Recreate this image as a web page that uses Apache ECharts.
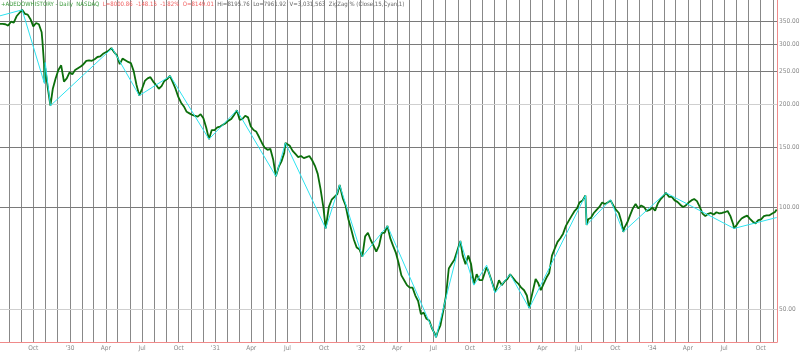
<!DOCTYPE html>
<html><head><meta charset="utf-8">
<script src="https://cdn.jsdelivr.net/npm/echarts@6/dist/echarts.min.js"></script>
<style>html,body{margin:0;padding:0;background:#fff}#c{width:800px;height:352px}</style>
</head><body><div id="c"></div>
<script>
// ---- data ----
const dates = [
'1929-07-09','1929-07-16','1929-07-23','1929-07-30','1929-08-06','1929-08-13','1929-08-20','1929-08-27','1929-09-03','1929-09-10','1929-09-17','1929-09-24','1929-10-01','1929-10-08','1929-10-15','1929-10-22','1929-10-24','1929-10-28','1929-10-29','1929-10-31','1929-11-04','1929-11-06','1929-11-13','1929-11-19','1929-11-26','1929-12-03','1929-12-10','1929-12-17','1929-12-24','1929-12-31',
'1930-01-07','1930-01-14','1930-01-21','1930-01-28','1930-02-04','1930-02-11','1930-02-18','1930-02-25','1930-03-04','1930-03-11','1930-03-18','1930-03-25','1930-04-01','1930-04-08','1930-04-15','1930-04-22','1930-04-29','1930-05-06','1930-05-13','1930-05-20','1930-05-27','1930-06-03','1930-06-10','1930-06-17','1930-06-24','1930-07-01','1930-07-08','1930-07-15','1930-07-22','1930-07-29','1930-08-05','1930-08-12','1930-08-19','1930-08-26','1930-09-02','1930-09-09','1930-09-16','1930-09-23','1930-09-30','1930-10-07','1930-10-14','1930-10-21','1930-10-28','1930-11-04','1930-11-11','1930-11-18','1930-11-25','1930-12-02','1930-12-09','1930-12-16','1930-12-23','1930-12-30',
'1931-01-06','1931-01-13','1931-01-20','1931-01-27','1931-02-03','1931-02-10','1931-02-17','1931-02-24','1931-03-03','1931-03-10','1931-03-17','1931-03-24','1931-03-31','1931-04-07','1931-04-14','1931-04-21','1931-04-28','1931-05-05','1931-05-12','1931-05-19','1931-05-26','1931-06-02','1931-06-09','1931-06-16','1931-06-23','1931-06-26','1931-06-30','1931-07-07','1931-07-14','1931-07-21','1931-07-28','1931-08-04','1931-08-11','1931-08-18','1931-08-25','1931-09-01','1931-09-08','1931-09-15','1931-09-22','1931-09-29','1931-10-05','1931-10-13','1931-10-20','1931-10-27','1931-11-03','1931-11-09','1931-11-17','1931-11-24','1931-12-01','1931-12-08','1931-12-15','1931-12-22','1931-12-29',
'1932-01-05','1932-01-12','1932-01-19','1932-01-26','1932-02-02','1932-02-09','1932-02-16','1932-02-23','1932-03-01','1932-03-08','1932-03-15','1932-03-22','1932-03-29','1932-04-05','1932-04-12','1932-04-19','1932-04-26','1932-05-03','1932-05-10','1932-05-17','1932-05-24','1932-05-31','1932-06-07','1932-06-14','1932-06-21','1932-06-28','1932-07-05','1932-07-08','1932-07-12','1932-07-19','1932-07-26','1932-08-02','1932-08-09','1932-08-16','1932-08-23','1932-08-30','1932-09-07','1932-09-13','1932-09-20','1932-09-27','1932-10-04','1932-10-11','1932-10-18','1932-10-25','1932-11-01','1932-11-08','1932-11-12','1932-11-15','1932-11-22','1932-11-29','1932-12-03','1932-12-06','1932-12-13','1932-12-20','1932-12-27',
'1933-01-03','1933-01-10','1933-01-17','1933-01-24','1933-01-31','1933-02-07','1933-02-14','1933-02-21','1933-02-27','1933-03-03','1933-03-15','1933-03-21','1933-03-28','1933-04-04','1933-04-11','1933-04-18','1933-04-25','1933-05-02','1933-05-09','1933-05-16','1933-05-23','1933-05-30','1933-06-06','1933-06-13','1933-06-20','1933-06-27','1933-07-03','1933-07-11','1933-07-18','1933-07-21','1933-07-25','1933-08-01','1933-08-08','1933-08-15','1933-08-22','1933-08-29','1933-09-05','1933-09-12','1933-09-19','1933-09-26','1933-10-03','1933-10-10','1933-10-17','1933-10-21','1933-10-24','1933-10-31','1933-11-07','1933-11-14','1933-11-21','1933-11-28','1933-12-05','1933-12-12','1933-12-19','1933-12-26',
'1934-01-02','1934-01-09','1934-01-16','1934-01-23','1934-01-30','1934-02-05','1934-02-13','1934-02-20','1934-02-27','1934-03-06','1934-03-13','1934-03-20','1934-03-27','1934-04-03','1934-04-10','1934-04-17','1934-04-24','1934-05-01','1934-05-08','1934-05-15','1934-05-22','1934-05-29','1934-06-05','1934-06-12','1934-06-19','1934-06-26','1934-07-03','1934-07-10','1934-07-17','1934-07-24','1934-07-26','1934-07-31','1934-08-07','1934-08-14','1934-08-21','1934-08-28','1934-09-04','1934-09-11','1934-09-18','1934-09-25','1934-10-02','1934-10-09','1934-10-16','1934-10-23','1934-10-30','1934-11-06','1934-11-10'
];
const closes = [
344,344,343,340,349,347,362,370,378,368,366,355,338,346,343,325,305,262,232,255,235,225,198,222,238,252,260,233,238,248,
245,252,255,258,262,268,269,268,271,275,276,281,284,287,292,284,278,262,272,269,266,264,250,228,212,222,234,238,240,233,228,222,226,234,237,242,232,222,210,202,197,190,188,186,185,184,187,182,171,158,168,168,
171,172,174,176,179,181,186,192,180,181,185,183,172,168,166,160,154,149,147,148,138,123,131,136,144,154,152,151,146,143,140,141,139,140,141,137,132,125,113,100,86.5,100,105,107,109,116,106,101,92,86,80,76,75,
71.5,82,84,80,77,74,77,84,84,88,81,77,73.5,68.5,63,61,59,58,58,55,53,48.5,49,47,46.5,44,42.5,41.5,43,45,49.5,55,66,68,70,74.3,79.5,72,68,72,68,59.5,63.5,61,61,64.5,66.5,65.5,62,58.5,56.5,57.5,61,59,60.5,
61.5,63.5,62,60.5,59.5,58,57,55,50.5,53.5,61.5,60,57,59.5,62,64,72,75.5,79,81,83.5,88,91,94,97,99,103,104.5,108,88.5,92,93,96,98,100,103,102,103,104.5,101,98,96,90,84.5,87,90,94.5,99,102,99,101,100,97.3,98,
99.5,97.5,102.5,105.5,107.5,110,107,107,104.5,103.5,101.5,100,101,103,104.5,105.5,104,100,95.6,94,95.5,96,95,96.5,95.8,96,96.5,97.3,94,89,86.5,88,90.5,92.5,93.5,94.3,92.3,90.5,89.5,91.5,92,94,94.5,94.5,95.6,96.7,98.3
];
const zigDates = ['1929-07-09','1929-09-03','1929-10-29','1929-10-31','1929-11-13','1930-04-17','1930-06-24','1930-09-10','1930-12-16','1931-02-24','1931-06-02','1931-06-26','1931-10-05','1931-11-09','1932-01-05','1932-03-08','1932-07-08','1932-09-07','1932-10-11','1932-11-12','1932-12-03','1933-01-10','1933-02-27','1933-07-18','1933-07-21','1933-09-19','1933-10-21','1934-02-05','1934-07-26','1934-11-10'];
const zigValues = [363,378,230,265,198,292,212,242,158,192,123,154,86.5,116,71.5,88,41.5,79.5,59,67.5,56,63.5,50.5,108,88.5,105,84.5,110,86.5,93.1];
const priceTicks = [50,100,150,200,250,300,350];
const lightPriceTicks = [50,200];
const tickDates = ['1929-10-01','1930-01-01','1930-04-01','1930-07-01','1930-10-01','1931-01-01','1931-04-01','1931-07-01','1931-10-01','1932-01-01','1932-04-01','1932-07-01','1932-10-01','1933-01-01','1933-04-01','1933-07-01','1933-10-01','1934-01-01','1934-04-01','1934-07-01','1934-10-01'];
const tickLabels = ['Oct',"'30",'Apr','Jul','Oct',"'31",'Apr','Jul','Oct',"'32",'Apr','Jul','Oct',"'33",'Apr','Jul','Oct',"'34",'Apr','Jul','Oct'];
const firstMonth = [1929, 8], lastMonth = [1934, 11];

// ---- build ----
const toTime = s => { const p = s.split(/[- :]/).map(Number); return new Date(p[0], p[1]-1, p[2], p[3]||0, p[4]||0).getTime(); };
const gridMonths = [];
for (let y = firstMonth[0], m = firstMonth[1]; y < lastMonth[0] || (y === lastMonth[0] && m <= lastMonth[1]); ) {
  gridMonths.push(y + '-' + String(m).padStart(2,'0') + '-01');
  m++; if (m > 12) { m = 1; y++; }
}
const FONT = "'Liberation Sans Narrow','DejaVu Sans Condensed','Liberation Sans',sans-serif";
const chart = echarts.init(document.getElementById('c'), null, {renderer:'canvas'});
chart.setOption({
  animation: false,
  backgroundColor: '#ffffff',
  title: {
    left: 1, top: 1, padding: 0,
    text: '{g|+ADEDOWHISTORY - Daily  NASDAQ}  {r|L=8000.86  -148.15  -1.82%  O=8149.01}  {k|Hi=8195.76  Lo=7961.92  V=3,031,563  ZigZag % (Close,15,Cyan,1)}',
    textStyle: { fontSize: 6, fontFamily: FONT, fontWeight: 'normal',
      rich: {
        g: {color: '#3c9a3c', fontSize: 6, fontFamily: FONT},
        r: {color: '#f06060', fontSize: 6, fontFamily: FONT},
        k: {color: '#666666', fontSize: 6, fontFamily: FONT}
      } }
  },
  grid: { left: 0, right: 23, top: 0, bottom: 10 },
  xAxis: {
    type: 'time', min: toTime('1929-07-09 10:00'), max: toTime('1934-11-10 22:00'),
    axisLine: { show: true, lineStyle: { color: '#f08a8a', width: 1 } },
    axisTick: { show: false }, axisLabel: { show: false }, splitLine: { show: false }
  },
  yAxis: {
    type: 'log', logBase: 10, min: 40.2, max: 404, position: 'right',
    axisLine: { show: true, lineStyle: { color: '#f08a8a', width: 1 } },
    axisTick: { show: false }, axisLabel: { show: false }, splitLine: { show: false }
  },
  series: [
    { type: 'line', data: [], clip: false, silent: true, z: 1,
      markLine: { silent: true, symbol: 'none', z: 1, animation: false,
        lineStyle: { color: '#888888', width: 1, type: 'solid' },
        label: { show: false, position: 'start', distance: 3, color: '#8a8a8a', fontSize: 6.5, fontFamily: FONT },
        emphasis: { disabled: true },
        data: gridMonths.map(d => {
          const i = tickDates.indexOf(d);
          return { xAxis: toTime(d), label: i >= 0 ? { show: true, formatter: tickLabels[i] } : { show: false } };
        })
      } },
    { type: 'line', data: [], clip: false, silent: true, z: 1,
      markLine: { silent: true, symbol: 'none', z: 1, animation: false,
        label: { show: true, position: 'end', distance: 2, color: '#8a8a8a', fontSize: 6.5, fontFamily: FONT,
          formatter: p => Number(p.value).toFixed(2) },
        emphasis: { disabled: true },
        data: priceTicks.map(v => ({ yAxis: v, lineStyle: { color: lightPriceTicks.includes(v) ? '#cfcfcf' : '#7a7a7a', width: 1, type: 'solid' } }))
      } },
    { type: 'line', name: 'Close', z: 3, showSymbol: false, symbol: 'none',
      data: dates.map((d, i) => [toTime(d), closes[i]]),
      lineStyle: { color: '#0b6e0b', width: 1.8 } },
    { type: 'line', name: 'ZigZag', z: 4, showSymbol: false, symbol: 'none',
      data: zigDates.map((d, i) => [toTime(d), zigValues[i]]),
      lineStyle: { color: '#2ee3f0', width: 1 } }
  ]
});
</script></body></html>
